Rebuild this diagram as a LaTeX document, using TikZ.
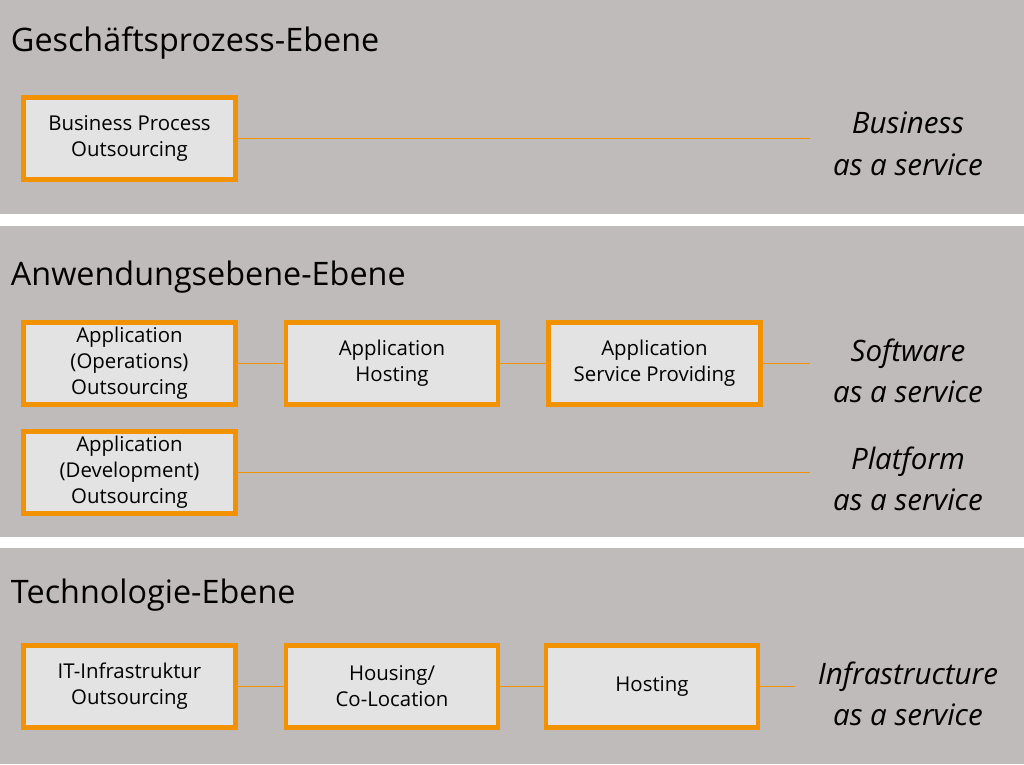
\documentclass[tikz,border=0pt]{standalone}
\usepackage{fontspec}
\setmainfont{Open Sans}
\definecolor{bandgray}{HTML}{BFBBBA}
\definecolor{boxfill}{HTML}{E4E3E3}
\definecolor{boxline}{HTML}{F39200}
\begin{document}
\begin{tikzpicture}[x=0.025cm,y=-0.025cm,
  box/.style={draw=boxline,line width=1.1mm,fill=boxfill,minimum width=5.3cm,minimum height=2.05cm,align=center,font=\fontsize{14.5}{18.5}\selectfont,inner sep=0pt},
  link/.style={draw=boxline,line width=0.7pt},
  level/.style={anchor=west,font=\fontsize{23}{27}\selectfont},
  service/.style={align=center,font=\fontsize{21}{29.5}\selectfont\itshape}]
  \useasboundingbox (0,0) rectangle (1024,764);
  % bands
  \fill[bandgray] (0,0) rectangle (1024,214);
  \fill[bandgray] (0,226) rectangle (1024,537);
  \fill[bandgray] (0,548) rectangle (1024,764);
  \node[level] (l1) at (6,43) {Geschäftsprozess-Ebene};
  \node[level] (l2) at (6,277) {Anwendungsebene-Ebene};
  \node[level] (l3) at (6,595) {Technologie-Ebene};
  % Geschaeftsprozess
  \node[box] (bpo) at (129.5,138.5) {Business Process\\Outsourcing};
  \coordinate (e1) at (810,138.5);
  \node[service] (bas) at (908,144) {Business\\as a service};
  \draw[link] (bpo) -- (e1);
  % Anwendung
  \node[box] (aoo) at (129.5,363.5) {Application\\(Operations)\\Outsourcing};
  \node[box] (ah) at (392,363.5) {Application\\Hosting};
  \node[box] (asp) at (654.5,363.5) {Application\\Service Providing};
  \coordinate (e2) at (810,363.5);
  \node[service] (saas) at (908,371) {Software\\as a service};
  \draw[link] (aoo) -- (ah);
  \draw[link] (ah) -- (asp);
  \draw[link] (asp) -- (e2);
  \node[box] (ado) at (129.5,472.5) {Application\\(Development)\\Outsourcing};
  \coordinate (e3) at (810,472.5);
  \node[service] (paas) at (908,479) {Platform\\as a service};
  \draw[link] (ado) -- (e3);
  % Technologie
  \node[box] (ito) at (129.5,686.5) {IT-Infrastruktur\\Outsourcing};
  \node[box] (hc) at (392,686.5) {Housing/\\Co-Location};
  \node[box] (ho) at (652,686.5) {Hosting};
  \coordinate (e4) at (795,686.5);
  \node[service] (iaas) at (908,694) {Infrastructure\\as a service};
  \draw[link] (ito) -- (hc);
  \draw[link] (hc) -- (ho);
  \draw[link] (ho) -- (e4);
\end{tikzpicture}
\end{document}
